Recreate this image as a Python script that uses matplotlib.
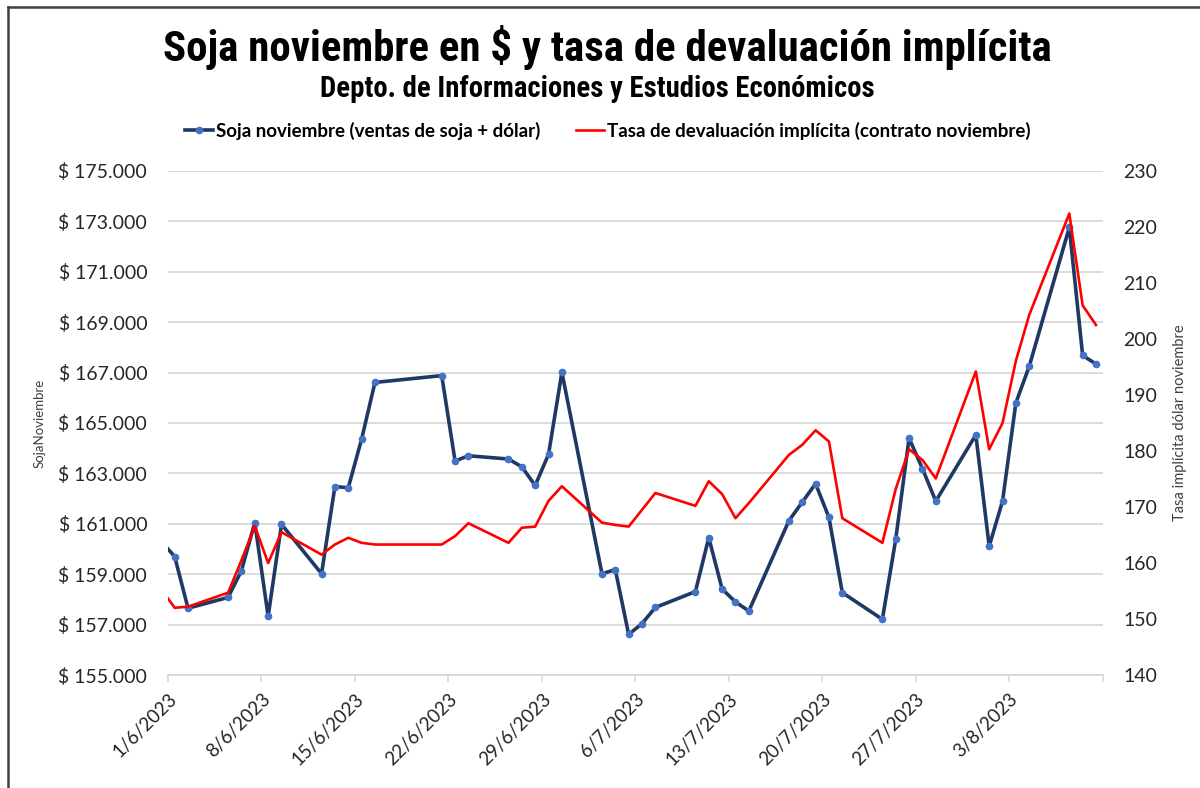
import pandas as pd
import matplotlib.pyplot as plt
import matplotlib.font_manager as fm
from matplotlib.ticker import FuncFormatter

# datos (31/5 queda fuera del eje, como en el original)
fechas = ['31/5/2023', '1/6/2023', '2/6/2023', '5/6/2023', '6/6/2023', '7/6/2023', '8/6/2023',
          '9/6/2023', '12/6/2023', '13/6/2023', '14/6/2023', '15/6/2023', '16/6/2023',
          '21/6/2023', '22/6/2023', '23/6/2023', '26/6/2023', '27/6/2023', '28/6/2023',
          '29/6/2023', '30/6/2023', '3/7/2023', '4/7/2023', '5/7/2023', '6/7/2023',
          '7/7/2023', '10/7/2023', '11/7/2023', '12/7/2023', '13/7/2023', '14/7/2023',
          '17/7/2023', '18/7/2023', '19/7/2023', '20/7/2023', '21/7/2023', '24/7/2023',
          '25/7/2023', '26/7/2023', '27/7/2023', '28/7/2023', '31/7/2023', '1/8/2023',
          '2/8/2023', '3/8/2023', '4/8/2023', '7/8/2023', '8/8/2023', '9/8/2023']

soja = [160300, 159700, 157650, 158080, 159140, 161050, 157330,
        160980, 159020, 162480, 162430, 164360, 166610,
        166880, 163490, 163700, 163570, 163260, 162520,
        163760, 167010, 159020, 159180, 156610, 157040,
        157680, 158310, 160450, 158410, 157900, 157540,
        161120, 161860, 162590, 161250, 158270, 157210,
        160380, 164400, 163190, 161900, 164530, 160110,
        161900, 165800, 167250, 172760, 167680, 167340]

tasa = [155.3, 152.0, 152.2, 154.7, 160.5, 166.6, 160.0,
        165.5, 161.5, 163.3, 164.5, 163.6, 163.3,
        163.3, 164.8, 167.1, 163.6, 166.3, 166.5,
        171.1, 173.7, 167.2, 166.8, 166.5, 169.5,
        172.5, 170.2, 174.6, 172.3, 168.0, 170.7,
        179.3, 181.1, 183.7, 181.7, 168.0, 163.6,
        173.2, 180.3, 178.4, 175.1, 194.2, 180.3,
        185.0, 196.1, 204.3, 222.4, 206.0, 202.5]

tick_fechas = ['1/6/2023', '8/6/2023', '15/6/2023', '22/6/2023', '29/6/2023', '6/7/2023',
               '13/7/2023', '20/7/2023', '27/7/2023', '3/8/2023', '10/8/2023']

# Excel pone cada punto en el medio del dia
x = pd.to_datetime(fechas, dayfirst=True) + pd.Timedelta(hours=12)
xt = pd.to_datetime(tick_fechas, dayfirst=True)

tick_font = ['Lato', 'DejaVu Sans']
txt = '#262626'
grid_c = '#D9D9D9'


def _w(f):
    w = f.weight
    return fm.weight_dict.get(w, 400) if isinstance(w, str) else w


# buscar una fuente angosta en negrita para el titulo, si hay alguna
narrow = [f for f in fm.fontManager.ttflist
          if ('Condensed' in f.name or 'Narrow' in f.name or 'condensed' in str(f.stretch))
          and _w(f) >= 600 and f.style == 'normal']
narrow.sort(key=lambda f: ('Roboto' not in f.name, 'DejaVu' in f.name, f.name))
if narrow:
    title_fp = fm.FontProperties(fname=narrow[0].fname)
else:
    title_fp = fm.FontProperties(family='Roboto', weight='bold')

fig = plt.figure(figsize=(12, 7.88), dpi=100)
ax = fig.add_axes([0.14, 0.1434, 0.7789, 0.6396])
ax2 = ax.twinx()

ax.plot(x, soja, color='#1F3864', lw=2.6, marker='o', ms=4.5,
        mfc='#4472C4', mec='#4472C4', label='Soja noviembre (ventas de soja + dólar)')
ax2.plot(x, tasa, color='#FF0000', lw=1.9, label='Tasa de devaluación implícita (contrato noviembre)')

ax.set_xlim(xt[0], xt[-1])
ax.set_ylim(155000, 175000)
ax2.set_ylim(140, 230)
ax.set_yticks(range(155000, 175001, 2000))
ax2.set_yticks(range(140, 231, 10))
ax.yaxis.set_major_formatter(FuncFormatter(lambda v, p: '$ ' + f'{int(v):,}'.replace(',', '.')))

ax.set_xticks(xt)
ax.set_xticklabels([f'{d.day}/{d.month}/{d.year}' for d in xt[:-1]] + [''],
                   rotation=45, ha='right', rotation_mode='anchor',
                   fontsize=13.5, family=tick_font, color=txt)
ax.tick_params(axis='x', length=5, color=grid_c, width=1.2, pad=6)
ax.tick_params(axis='y', length=0, pad=15, labelsize=14, labelcolor=txt)
ax2.tick_params(axis='y', length=0, pad=15, labelsize=14, labelcolor=txt)
for lb in ax.get_yticklabels() + ax2.get_yticklabels():
    lb.set_family(tick_font)

ax.grid(axis='y', color=grid_c, lw=1.3)
ax.set_axisbelow(True)
for a in (ax, ax2):
    for s in ('top', 'left', 'right'):
        a.spines[s].set_visible(False)
    a.spines['bottom'].set_color(grid_c)
    a.spines['bottom'].set_linewidth(1.3)

ax.set_ylabel('SojaNoviembre', fontsize=9.5, family=tick_font, color='#404040')
ax.yaxis.set_label_coords(-0.1305, 0.5)
ax2.set_ylabel('Tasa implícita dólar noviembre', fontsize=10.5, family=tick_font, color='#404040')
ax2.yaxis.set_label_coords(1.075, 0.5)

# titulos, ajustados al ancho que tienen en el original
t1 = fig.text(607 / 1200, 1 - 47 / 788, 'Soja noviembre en $ y tasa de devaluación implícita',
              ha='center', va='center', fontsize=30, fontproperties=title_fp, color='black')
t2 = fig.text(597 / 1200, 1 - 89 / 788, 'Depto. de Informaciones y Estudios Económicos',
              ha='center', va='center', fontsize=16, fontproperties=title_fp, color='black')
r = fig.canvas.get_renderer()
for t, target in ((t1, 890), (t2, 553)):
    t.set_fontsize(t.get_fontsize() * target / t.get_window_extent(r).width)

h1, l1 = ax.get_legend_handles_labels()
h2, l2 = ax2.get_legend_handles_labels()
fig.legend(h1 + h2, l1 + l2, loc='center', bbox_to_anchor=(608 / 1200, 1 - 131 / 788), ncol=2, frameon=False,
           handlelength=1.5, handletextpad=0.15, columnspacing=1.9,
           prop={'family': tick_font, 'weight': 'bold', 'size': 13.5})

# marco del grafico (solo arriba e izquierda se ven en la captura)
fig.add_artist(plt.Line2D([8 / 1200, 8 / 1200], [0, 1 - 7 / 788], transform=fig.transFigure, color='#404040', lw=1.8))
fig.add_artist(plt.Line2D([8 / 1200, 1], [1 - 7 / 788, 1 - 7 / 788], transform=fig.transFigure, color='#404040', lw=1.8))

fig.savefig('out.png', dpi=100)
